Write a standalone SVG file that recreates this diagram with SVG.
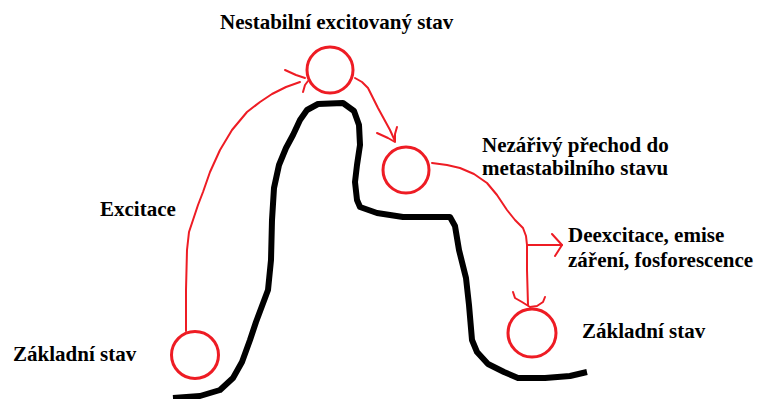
<svg xmlns="http://www.w3.org/2000/svg" width="758" height="399" viewBox="0 0 758 399">
<style>
.lbl{font-family:"Liberation Serif","Times New Roman",serif;font-weight:bold;font-size:21px;fill:#000}
.st{fill:none;stroke:#ee1c24;stroke-width:3}
.ln{fill:none;stroke:#ee1c24;stroke-width:2;stroke-linejoin:round;stroke-linecap:round}
.curve{fill:none;stroke:#000;stroke-width:6;stroke-linejoin:round;stroke-linecap:butt}
</style>
<rect width="758" height="399" fill="#fff"/>
<g id="barrier">
<path class="curve" d="M173,398 L200,396 L220,390 L233,378 L242,362 L250,340 L256,322 L262,306 L268,290 L271,260 L272,220 L274,188 L279,165 L286,148 L293,135 L300,120 L307,110 L318,104 L343,103 L354,111 L359,125 L360,145 L357,165 L355,182 L357,200 L360,207 L377,213 L403,217 L450,217 L455,226 L459,250 L466,278 L469,305 L472,340 L477,352 L488,364 L504,372 L518,378 L545,378 L570,376 L587,372"/>
</g>
<g id="state-ground-left">
<circle class="st" cx="195" cy="355" r="23.5"/>
<text class="lbl" x="13" y="361">Základní stav</text>
</g>
<g id="state-excited">
<circle class="st" cx="330" cy="70" r="23"/>
<text class="lbl" x="220" y="29">Nestabilní excitovaný stav</text>
</g>
<g id="state-metastable">
<circle class="st" cx="406" cy="170" r="23"/>
<text class="lbl" x="482" y="152">Nezářivý přechod do</text>
<text class="lbl" x="482" y="175">metastabilního stavu</text>
</g>
<g id="state-ground-right">
<circle class="st" cx="532" cy="333" r="24"/>
<text class="lbl" x="582" y="338">Základní stav</text>
</g>
<g id="label-excitace">
<text class="lbl" x="100" y="216">Excitace</text>
</g>
<g id="label-deexcitace">
<text class="lbl" x="568" y="242">Deexcitace, emise</text>
<text class="lbl" x="568" y="267">záření, fosforescence</text>
</g>
<g id="connectors">
<!-- excitation -->
<path class="ln" d="M186,331 L186,290 L187,250 L189,232 L193,220 L198,205 L203,192 L210,172 L220,150 L232,130 L247,112 L260,102 L272,94 L286,87 L300,82"/>
<path class="ln" d="M285,70 L296,75 L305,78 M303,92 L305,85 L308,81"/>
<!-- non-radiative transition -->
<path class="ln" d="M355,78 L362,82 L368,88 L373,98 L378,108 L384,119 L390,130 L395,141"/>
<path class="ln" d="M377,133 L388,138 L395,142 M397,127 L395,134 L395,142"/>
<!-- to deexcitation -->
<path class="ln" d="M432,163 L447,165 L460,168 L474,174 L487,183 L497,195 L507,210 L515,220 L523,228 L526,236 L527,245 L527,270 L528,305"/>
<path class="ln" d="M527,245 L562,245"/>
<path class="ln" d="M552,234 L562,245 L555,256"/>
<path class="ln" d="M513,292 L515,298 L522,302 L530,307 M545,297 L543,302 L537,306 L530,307"/>
</g>
</svg>
